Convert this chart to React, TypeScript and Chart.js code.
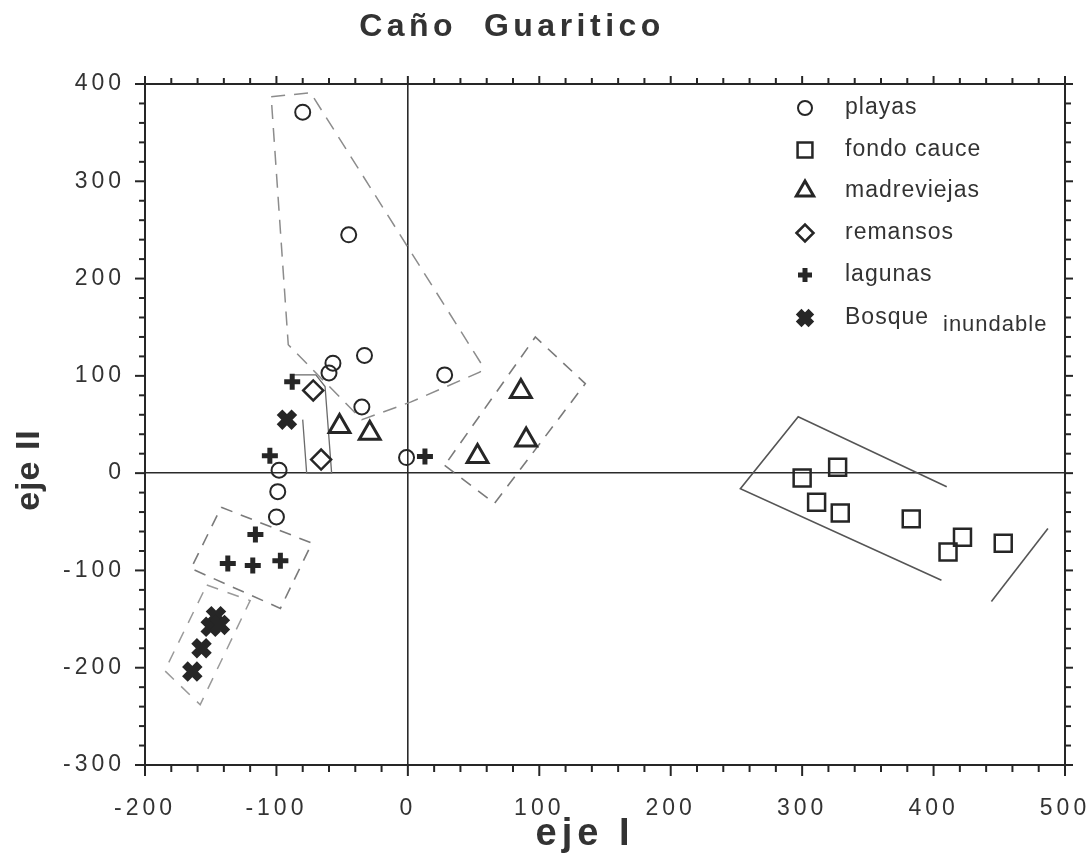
import React, { useEffect, useRef } from 'react';
import { Chart, registerables } from 'chart.js';
import { drawPoint } from 'chart.js/helpers';

Chart.register(...registerables);

// ---------- texts ----------
const TITLE = 'Caño  Guaritico';
const X_TITLE = 'eje I';
const Y_TITLE = 'eje II';

// ---------- axes ----------
const X_MIN = -200;
const X_MAX = 500;
const Y_MIN = -300;
const Y_MAX = 400;
const MAJOR_STEP = 100;
const MINOR_STEP = 20;

// ---------- series (eje I, eje II) ----------
const playas = [
  { x: -80, y: 371 }, { x: -45, y: 245 }, { x: -33, y: 121 }, { x: -57, y: 113 },
  { x: -60, y: 103 }, { x: 28, y: 101 }, { x: -35, y: 68 }, { x: -1, y: 16 },
  { x: -98, y: 3 }, { x: -99, y: -19 }, { x: -100, y: -45 },
];
const fondoCauce = [
  { x: 300, y: -5 }, { x: 327, y: 6 }, { x: 311, y: -30 }, { x: 329, y: -41 },
  { x: 383, y: -47 }, { x: 422, y: -66 }, { x: 411, y: -81 }, { x: 453, y: -72 },
];
const madreviejas = [
  { x: -52, y: 48 }, { x: -29, y: 41 }, { x: 53, y: 17 }, { x: 86, y: 84 }, { x: 90, y: 34 },
];
const remansos = [
  { x: -72, y: 85 }, { x: -66, y: 14 },
];
const lagunas = [
  { x: -88, y: 94 }, { x: -105, y: 18 }, { x: 13, y: 17 }, { x: -116, y: -63 },
  { x: -137, y: -93 }, { x: -118, y: -95 }, { x: -97, y: -90 },
];
const bosque = [
  { x: -92, y: 55 }, { x: -146, y: -147 }, { x: -150, y: -158 }, { x: -143, y: -156 },
  { x: -157, y: -180 }, { x: -164, y: -204 },
];

// ---------- hand-drawn group outlines ----------
const hullPlayas = [
  { x: -104, y: 387 }, { x: -74, y: 391 }, { x: 57, y: 110 }, { x: 55, y: 104 },
  { x: 2, y: 73 }, { x: -35, y: 55 }, { x: -91, y: 132 }, { x: -104, y: 387 },
];
const hullRemansos = [
  { x: -88, y: 101 }, { x: -70, y: 101 }, { x: -63, y: 89 }, { x: -58, y: 0 },
  { x: -77, y: 0 }, { x: -80, y: 55 },
];
const hullMadreviejas = [
  { x: 28, y: 8 }, { x: 66, y: -31 }, { x: 135, y: 92 }, { x: 97, y: 140 }, { x: 28, y: 8 },
];
const hullLagunas = [
  { x: -142, y: -35 }, { x: -73, y: -72 }, { x: -97, y: -139 }, { x: -165, y: -98 }, { x: -142, y: -35 },
];
const hullBosque = [
  { x: -153, y: -115 }, { x: -120, y: -131 }, { x: -158, y: -238 }, { x: -185, y: -203 }, { x: -153, y: -115 },
];
const hullFondoA = [
  { x: 410, y: -14 }, { x: 297, y: 58 }, { x: 253, y: -16 }, { x: 406, y: -110 },
];
const hullFondoB = [
  { x: 444, y: -132 }, { x: 487, y: -57 },
];

const INK = '#262626';

const markerStyles = [
  { label: 'playas', data: playas, pointStyle: 'circle', radius: 7.5, borderWidth: 2, legendRadius: 7 },
  { label: 'fondo cauce', data: fondoCauce, pointStyle: 'rect', radius: 12, borderWidth: 2.5, legendRadius: 10.5 },
  { label: 'madreviejas', data: madreviejas, pointStyle: 'triangle', radius: 12, borderWidth: 3, legendRadius: 10 },
  { label: 'remansos', data: remansos, pointStyle: 'rectRot', radius: 10, borderWidth: 2.5, legendRadius: 8.5 },
  { label: 'lagunas', data: lagunas, pointStyle: 'cross', radius: 8, borderWidth: 5, legendRadius: 7 },
  { label: 'Bosque', data: bosque, pointStyle: 'crossRot', radius: 10.5, borderWidth: 8, legendRadius: 9 },
];

const outlineStyles = [
  { data: hullPlayas, color: '#8c8c8c', dash: [14, 9], width: 1.5 },
  { data: hullRemansos, color: '#6a6a6a', dash: [], width: 1.3 },
  { data: hullMadreviejas, color: '#7a7a7a', dash: [12, 9], width: 1.6 },
  { data: hullLagunas, color: '#7a7a7a', dash: [12, 9], width: 1.6 },
  { data: hullBosque, color: '#9a9a9a', dash: [12, 10], width: 1.5 },
  { data: hullFondoA, color: '#555555', dash: [], width: 1.6 },
  { data: hullFondoB, color: '#555555', dash: [], width: 1.6 },
];

const decorPlugin = {
  id: 'decor',
  beforeDraw(chart: any) {
    (chart.ctx as any).letterSpacing = '4px';
  },
  afterDraw(chart: any) {
    const ctx = chart.ctx as any;
    const { left, right, top, bottom } = chart.chartArea;
    const xs = chart.scales.x;
    const ys = chart.scales.y;
    ctx.save();
    ctx.letterSpacing = '0px';
    ctx.strokeStyle = INK;
    ctx.lineWidth = 2;
    ctx.setLineDash([]);
    const seg = (x1: number, y1: number, x2: number, y2: number) => {
      ctx.beginPath();
      ctx.moveTo(x1, y1);
      ctx.lineTo(x2, y2);
      ctx.stroke();
    };
    // frame
    ctx.strokeRect(left, top, right - left, bottom - top);
    // ticks
    for (let v = X_MIN; v <= X_MAX + 1e-6; v += MINOR_STEP) {
      const px = xs.getPixelForValue(v);
      const major = Math.abs(v % MAJOR_STEP) < 1e-6;
      seg(px, bottom, px, bottom + (major ? 11 : 7));
      seg(px, top, px, top - (major ? 8 : 6));
    }
    for (let v = Y_MIN; v <= Y_MAX + 1e-6; v += MINOR_STEP) {
      const py = ys.getPixelForValue(v);
      const major = Math.abs(v % MAJOR_STEP) < 1e-6;
      seg(left, py, left - (major ? 10 : 6), py);
      seg(right, py, right + (major ? 8 : 6), py);
    }

    // title
    ctx.fillStyle = '#333';
    ctx.textBaseline = 'middle';
    ctx.textAlign = 'center';
    ctx.font = 'bold 32px "Liberation Sans", Arial, sans-serif';
    ctx.letterSpacing = '4.5px';
    ctx.fillText(TITLE, 512, 27);

    // x title
    ctx.font = 'bold 38px "Liberation Sans", Arial, sans-serif';
    ctx.letterSpacing = '5px';
    ctx.fillText(X_TITLE, 585, 835);

    // y title
    ctx.save();
    ctx.translate(30, 470);
    ctx.rotate(-Math.PI / 2);
    ctx.font = 'bold 34px "Liberation Sans", Arial, sans-serif';
    ctx.letterSpacing = '1px';
    ctx.fillText(Y_TITLE, 0, 0);
    ctx.restore();

    // legend
    const lx = 805;
    const tx = 845;
    const rowY = [108, 150, 191, 233, 275, 318];
    markerStyles.forEach((m, i) => {
      ctx.save();
      ctx.strokeStyle = INK;
      ctx.fillStyle = 'rgba(0,0,0,0)';
      ctx.lineWidth = m.borderWidth;
      drawPoint(ctx, { pointStyle: m.pointStyle as any, rotation: 0, radius: m.legendRadius, borderWidth: m.borderWidth }, lx, rowY[i]);
      ctx.restore();
      ctx.fillStyle = '#333';
      ctx.textAlign = 'left';
      ctx.font = '23px "Liberation Sans", Arial, sans-serif';
      ctx.letterSpacing = '1px';
      ctx.fillText(m.label, tx, rowY[i]);
    });
    ctx.font = '22px "Liberation Sans", Arial, sans-serif';
    ctx.fillText('inundable', 943, 325);

    ctx.restore();
    ctx.letterSpacing = '0px';
  },
};

export default function App() {
  const canvasRef = useRef<HTMLCanvasElement | null>(null);

  useEffect(() => {
    if (!canvasRef.current) return;
    const datasets: any[] = [];
    markerStyles.forEach((m) => {
      datasets.push({
        label: m.label,
        data: m.data,
        pointStyle: m.pointStyle,
        pointRadius: m.radius,
        pointBorderWidth: m.borderWidth,
        pointBorderColor: INK,
        pointBackgroundColor: 'rgba(0,0,0,0)',
        showLine: false,
        order: 0,
      });
    });
    outlineStyles.forEach((o, i) => {
      datasets.push({
        label: 'outline' + i,
        data: o.data,
        showLine: true,
        pointRadius: 0,
        borderColor: o.color,
        borderWidth: o.width,
        borderDash: o.dash,
        fill: false,
        tension: 0,
        order: 10,
      });
    });

    const zeroLine = (c: any) => (c.tick && c.tick.value === 0 ? '#2a2a2a' : 'rgba(0,0,0,0)');

    const chart = new Chart(canvasRef.current, {
      type: 'scatter',
      data: { datasets },
      options: {
        animation: false,
        responsive: false,
        devicePixelRatio: 1,
        events: [],
        layout: { padding: { top: 84, right: 24, bottom: 0, left: 0 } },
        plugins: {
          legend: { display: false },
          tooltip: { enabled: false },
          title: { display: false },
        },
        scales: {
          x: {
            type: 'linear',
            min: X_MIN,
            max: X_MAX,
            border: { display: false },
            grid: { color: zeroLine, lineWidth: 1.6, drawTicks: false },
            ticks: {
              stepSize: MAJOR_STEP,
              padding: 30,
              color: '#333',
              maxRotation: 0,
              font: { family: '"Liberation Sans", Arial, sans-serif', size: 23 },
            },
            afterFit: (s: any) => {
              s.height = 100;
              s.paddingLeft = 0;
              s.paddingRight = 0;
            },
          },
          y: {
            type: 'linear',
            min: Y_MIN,
            max: Y_MAX,
            border: { display: false },
            grid: { color: zeroLine, lineWidth: 1.6, drawTicks: false },
            ticks: {
              stepSize: MAJOR_STEP,
              padding: 20,
              color: '#333',
              font: { family: '"Liberation Sans", Arial, sans-serif', size: 23 },
            },
            afterFit: (s: any) => {
              s.width = 145;
              s.paddingTop = 0;
              s.paddingBottom = 0;
            },
          },
        },
      },
      plugins: [decorPlugin],
    } as any);
    return () => chart.destroy();
  }, []);

  return (
    <div style={{ position: 'absolute', left: 0, top: 0, width: 1089, height: 865, background: '#fff' }}>
      <canvas ref={canvasRef} width={1089} height={865} style={{ display: 'block' }} />
    </div>
  );
}
